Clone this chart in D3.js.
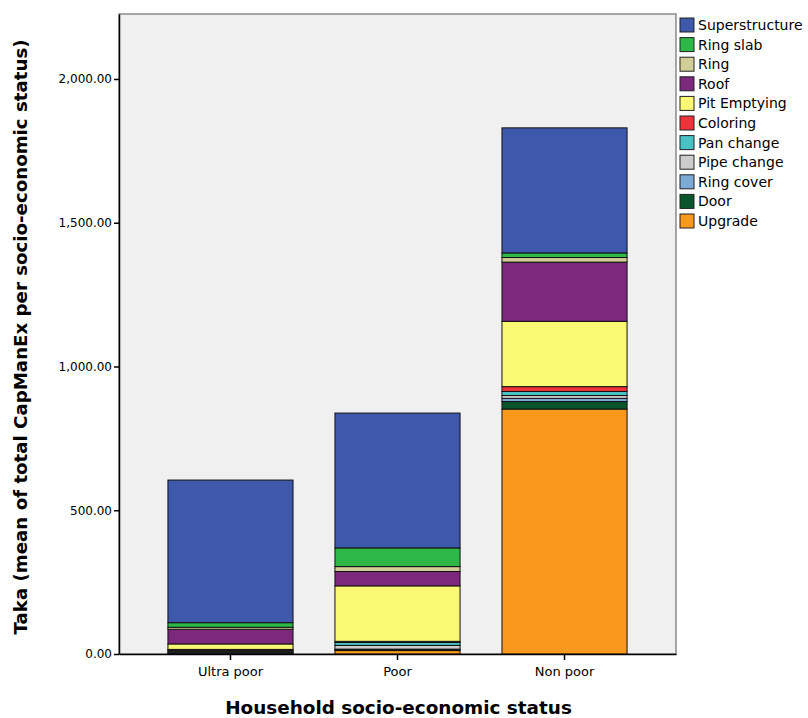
<!DOCTYPE html>
<html>
<head>
<meta charset="utf-8">
<script src="https://cdn.jsdelivr.net/npm/d3@7"></script>
<style>
body{margin:0;background:#fff;}
svg{display:block;font-family:"DejaVu Sans",Verdana,sans-serif;}
</style>
</head>
<body>
<svg id="chart" width="808" height="718"></svg>
<script>
const categories = ["Ultra poor", "Poor", "Non poor"];
const seriesNames = ["Upgrade", "Door", "Ring cover", "Pipe change", "Pan change", "Coloring", "Pit Emptying", "Roof", "Ring", "Ring slab", "Superstructure"];
const upgrade      = [0, 12, 852];
const door         = [3, 3, 26];
const ringCover    = [3, 2, 11];
const pipeChange   = [4, 13, 10];
const panChange    = [3, 10, 14];
const coloring     = [3, 4, 17];
const pitEmptying  = [19, 193, 227];
const roof         = [51, 50, 206];
const ring         = [7, 17, 16];
const ringSlab     = [16, 65, 16];
const superstructure = [496, 469, 435];
const colors = ["#F8981D", "#0A562C", "#7AAAD5", "#CCCCCC", "#48C2C5", "#EF3338", "#FBF873", "#7C287D", "#D3CE97", "#2EB848", "#3E58AC"];
const yTicks = [0, 500, 1000, 1500, 2000];

const seriesValues = [upgrade, door, ringCover, pipeChange, panChange, coloring, pitEmptying, roof, ring, ringSlab, superstructure];
const table = categories.map((c, i) => {
  const row = {cat: c};
  seriesNames.forEach((s, j) => row[s] = seriesValues[j][i]);
  return row;
});

const svg = d3.select("#chart");
const plot = {left: 119, right: 676, top: 14, bottom: 654};

const x = d3.scaleBand().domain(categories).range([plot.left, plot.right]).paddingInner(0.251).paddingOuter(0.293);
const y = d3.scaleLinear().domain([0, 2226]).range([plot.bottom, plot.top]);
const color = d3.scaleOrdinal().domain(seriesNames).range(colors);

svg.append("rect").attr("x", plot.left).attr("y", plot.top)
  .attr("width", plot.right - plot.left).attr("height", plot.bottom - plot.top)
  .attr("fill", "#F0F0F0").attr("stroke", "#8a8a8a").attr("stroke-width", 1.5);

const stacked = d3.stack().keys(seriesNames)(table);
svg.append("g").selectAll("g").data(stacked).join("g")
  .attr("fill", d => color(d.key))
  .selectAll("rect").data(d => d).join("rect")
  .attr("x", d => x(d.data.cat))
  .attr("width", x.bandwidth())
  .attr("y", d => y(d[1]))
  .attr("height", d => Math.max(0, y(d[0]) - y(d[1])))
  .attr("stroke", "#111")
  .attr("stroke-width", 1);

// y axis
const yAxis = svg.append("g").attr("transform", `translate(${plot.left},0)`)
  .call(d3.axisLeft(y).tickValues(yTicks).tickFormat(d3.format(",.2f")).tickSize(5).tickPadding(2).tickSizeOuter(0));
yAxis.select(".domain").attr("stroke", "#000").attr("stroke-width", 1.5);
yAxis.selectAll("line").attr("stroke", "#000").attr("stroke-width", 1.5);
yAxis.selectAll("text").attr("font-size", 12).attr("fill", "#000").attr("font-family", "DejaVu Sans, Verdana, sans-serif");

// x axis
const xAxis = svg.append("g").attr("transform", `translate(0,${plot.bottom})`)
  .call(d3.axisBottom(x).tickSize(6).tickSizeOuter(0));
xAxis.select(".domain").attr("stroke", "#000").attr("stroke-width", 1.5);
xAxis.selectAll("line").attr("stroke", "#000").attr("stroke-width", 1.5);
xAxis.selectAll("text").attr("font-size", 13).attr("fill", "#000").attr("dy", "1.0em").attr("font-family", "DejaVu Sans, Verdana, sans-serif");

// axis titles
svg.append("text").attr("x", (plot.left + plot.right) / 2 + 1).attr("y", 714)
  .attr("text-anchor", "middle").attr("font-size", 18.4).attr("font-weight", "bold")
  .text("Household socio-economic status");
svg.append("text").attr("transform", `translate(27,${(plot.top + plot.bottom) / 2 + 3}) rotate(-90)`)
  .attr("text-anchor", "middle").attr("font-size", 18.2).attr("font-weight", "bold")
  .text("Taka (mean of total CapManEx per socio-economic status)");

// legend
const legendOrder = seriesNames.slice().reverse();
const lg = svg.append("g");
const li = lg.selectAll("g").data(legendOrder).join("g")
  .attr("transform", (d, i) => `translate(680,${18 + i * 19.6})`);
li.append("rect").attr("width", 14).attr("height", 14)
  .attr("fill", d => color(d)).attr("stroke", "#222").attr("stroke-width", 1);
li.append("text").attr("x", 18).attr("y", 12).attr("font-size", 14).attr("fill", "#000").text(d => d);
</script>
</body>
</html>
